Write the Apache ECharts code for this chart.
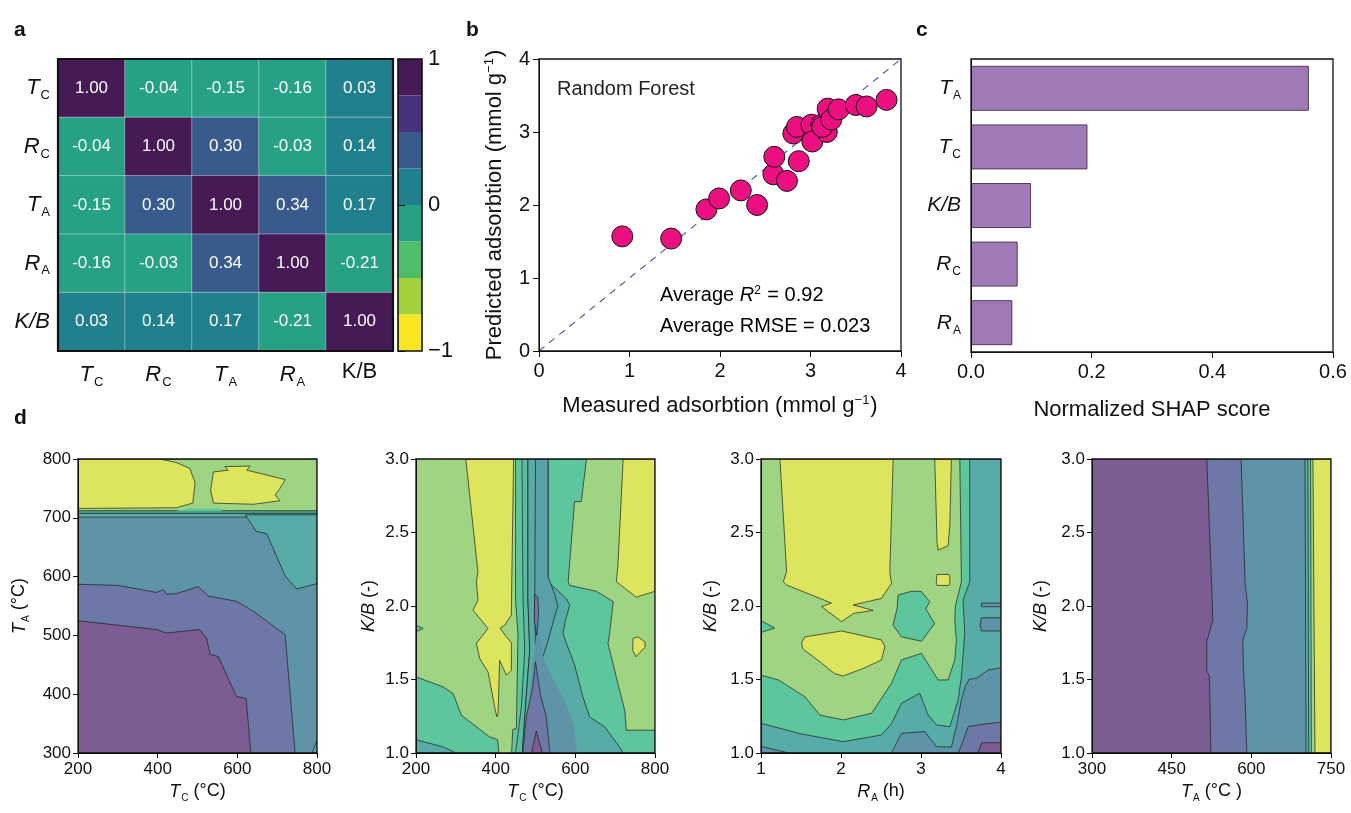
<!DOCTYPE html>
<html><head><meta charset="utf-8">
<script src="https://cdn.jsdelivr.net/npm/echarts@6/dist/echarts.min.js"></script>
<style>html,body{margin:0;padding:0;background:#fff}#c{width:1351px;height:813px}</style>
</head><body><div id="c"></div>
<script>
const FONT = '"Liberation Sans", Arial, Helvetica, sans-serif';

// ---------- panel a : correlation matrix ----------
const corrVars = ['TC', 'RC', 'TA', 'RA', 'KB'];
const corrMatrix = [
  [1.00, -0.04, -0.15, -0.16, 0.03],
  [-0.04, 1.00, 0.30, -0.03, 0.14],
  [-0.15, 0.30, 1.00, 0.34, 0.17],
  [-0.16, -0.03, 0.34, 1.00, -0.21],
  [0.03, 0.14, 0.17, -0.21, 1.00]
];
const cbarEdges = [-1, -0.75, -0.5, -0.25, 0, 0.25, 0.5, 0.75, 1];
const cbarColors = ['#f7e621', '#a2d13c', '#50bd6a', '#27a185', '#21808e', '#395b8c', '#46327e', '#451a55'];

// ---------- panel b : parity plot ----------
const measured  = [0.92, 1.46, 1.85, 1.99, 2.23, 2.41, 2.59, 2.60, 2.74, 2.87, 2.81, 2.85, 3.01, 3.02, 3.18, 3.12, 3.13, 3.19, 3.23, 3.31, 3.50, 3.62, 3.84];
const predicted = [1.57, 1.54, 1.94, 2.09, 2.20, 2.00, 2.42, 2.66, 2.33, 2.60, 2.98, 3.07, 3.10, 2.87, 3.00, 3.10, 3.07, 3.32, 3.17, 3.31, 3.37, 3.35, 3.44];
const parityLine = [[0, 0], [4, 4]];

// ---------- panel c : SHAP ----------
const shapFeatures = ['TA', 'TC', 'KB', 'RC', 'RA'];
const shapValues = [0.560, 0.193, 0.0996, 0.0774, 0.0686];

// ---------- panel d : contour regions (data coordinates, level index) ----------
const dLevelColors = ['#7b5d93', '#6e78a6', '#5f93a8', '#57aca7', '#5ec69d', '#9fd483', '#dce55d', '#5bbba2', '#5aa0a9'];

const d1Regions = [
  {lv: 2, ln: 0, pts: [[200, 300], [800, 300], [800, 800], [200, 800]]},
  {lv: 3, pts: [[200, 701], [800, 701], [800, 708], [200, 708]]},
  {lv: 4, pts: [[200, 708], [800, 708], [800, 712], [200, 712]]},
  {lv: 5, pts: [[200, 712], [800, 712], [800, 800], [200, 800]]},
  {lv: 4, ln: 0, pts: [[440, 711], [560, 711], [560, 716], [480, 716]]},
  {lv: 6, pts: [[200, 800], [405, 800], [447, 794], [481, 784], [494, 759], [488, 725], [447, 717], [200, 716]]},
  {lv: 6, pts: [[540, 778], [577, 781], [569, 787], [632, 788], [624, 781], [720, 765], [707, 750], [695, 739], [707, 729], [640, 723], [540, 725], [533, 747]]},
  {lv: 3, pts: [[620, 705], [800, 705], [800, 588], [749, 579], [720, 601], [674, 673], [647, 677]]},
  {lv: 1, pts: [[200, 587], [301, 585], [397, 573], [414, 578], [422, 570], [447, 571], [502, 583], [527, 567], [598, 558], [645, 539], [674, 524], [720, 501], [745, 300], [200, 300]]},
  {lv: 0, pts: [[200, 525], [397, 510], [422, 504], [477, 508], [505, 510], [523, 495], [531, 468], [552, 464], [598, 396], [622, 393], [634, 300], [200, 300]]},
  {lv: 3, pts: [[788, 300], [800, 300], [800, 322]]}
];

const d2Regions = [
  {lv: 5, ln: 0, pts: [[200, 1], [800, 1], [800, 3], [200, 3]]},
  {lv: 6, pts: [[325, 3.0], [445, 3.0], [439.5, 2.0], [439.4, 1.94], [423, 1.87], [411, 1.85], [424, 1.8], [439.4, 1.75], [439.4, 1.563], [427, 1.529], [410, 1.63], [406, 1.27], [403, 1.245], [397.6, 1.313], [381, 1.55], [360, 1.643], [351.6, 1.745], [380.8, 1.847], [343.2, 1.972], [355.7, 2.04], [351.6, 2.165], [355.5, 2.233]]},
  {lv: 6, pts: [[720, 3.0], [800, 3.0], [800, 2.1], [753, 2.06], [703, 2.165], [707, 2.28]]},
  {lv: 6, pts: [[745, 1.78], [757, 1.79], [775, 1.755], [775, 1.72], [752, 1.655], [744, 1.7]]},
  {lv: 4, pts: [[200, 1.518], [268, 1.45], [293, 1.404], [314, 1.257], [385, 1.109], [405, 1.09], [408, 1.0], [200, 1.0]]},
  {lv: 3, pts: [[200, 1.091], [268, 1.041], [301, 1.0], [200, 1.0]]},
  {lv: 4, pts: [[200, 1.87], [218, 1.847], [200, 1.825]]},
  {lv: 4, pts: [[450, 3.0], [628, 3.0], [615, 2.71], [598, 2.71], [582, 2.165], [586, 2.14], [653, 2.1], [695, 2.03], [686, 1.813], [682, 1.745], [711, 1.427], [724, 1.29], [728, 1.155], [800, 1.155], [800, 1.0], [440, 1.0], [443, 1.16], [452, 1.166], [456, 1.81], [450, 2.04]]},
  {lv: 7, pts: [[466, 3.0], [481, 3.0], [481, 2.04], [485.5, 1.7], [473, 1.245], [467, 1.0], [450, 1.0], [464.5, 1.313], [473, 1.7], [468.7, 2.04]]},
  {lv: 3, pts: [[481, 3.0], [531.5, 3.0], [531.5, 2.165], [577.5, 2.05], [586, 2.006], [575, 1.9], [569, 1.81], [598, 1.6], [619, 1.382], [636, 1.245], [674, 1.177], [711, 1.04], [720, 1.0], [467, 1.0], [473, 1.245], [485.5, 1.7], [481, 2.04]]},
  {lv: 8, pts: [[500, 3.0], [531.5, 3.0], [531.5, 2.2], [548, 2.08], [556, 2.0], [540, 1.85], [530, 1.75], [518, 1.65], [500, 1.7], [498, 2.0]]},
  {lv: 2, ln: 0, pts: [[505, 1.85], [520, 1.65], [545, 1.5], [575, 1.35], [595, 1.2], [605, 1.0], [478, 1.0], [482, 1.25], [492, 1.6]]},
  {lv: 1, pts: [[498, 2.08], [506, 2.06], [508, 1.95], [503, 1.8], [497, 1.9]]},
  {lv: 1, pts: [[500, 1.62], [512, 1.4], [527, 1.245], [536, 1.0], [468, 1.0], [477, 1.245], [493, 1.45]]},
  {lv: 0, pts: [[502, 1.15], [517, 1.0], [490, 1.0]]}
];

const d3Regions = [
  {lv: 5, ln: 0, pts: [[1, 1], [4, 1], [4, 3], [1, 3]]},
  {lv: 6, pts: [[1.237, 3.0], [2.652, 3.0], [2.61, 2.234], [2.631, 2.154], [2.506, 2.052], [2.153, 2.007], [2.4, 1.97], [2.16, 1.95], [2.007, 1.894], [1.757, 1.996], [1.88, 2.02], [1.32, 2.143], [1.279, 2.165], [1.32, 2.234]]},
  {lv: 6, pts: [[1.508, 1.75], [1.549, 1.79], [2.007, 1.83], [2.506, 1.769], [2.548, 1.723], [2.506, 1.633], [2.3, 1.58], [2.028, 1.524], [1.92, 1.54], [1.737, 1.62], [1.52, 1.71]]},
  {lv: 6, pts: [[3.172, 3.0], [3.38, 3.0], [3.36, 2.55], [3.339, 2.41], [3.214, 2.38], [3.2, 2.44]]},
  {lv: 6, pts: [[3.2, 2.215], [3.35, 2.215], [3.36, 2.2], [3.36, 2.15], [3.35, 2.14], [3.2, 2.14], [3.19, 2.16]]},
  {lv: 4, pts: [[2.715, 2.075], [2.881, 2.1], [3.0, 2.1], [3.11, 2.03], [3.06, 1.98], [3.17, 1.88], [3.006, 1.76], [2.756, 1.79], [2.65, 1.87], [2.7, 1.98]]},
  {lv: 4, pts: [[1.0, 1.9], [1.17, 1.85], [1.0, 1.82]]},
  {lv: 4, pts: [[1.0, 1.53], [1.216, 1.497], [1.549, 1.383], [1.737, 1.258], [2.028, 1.225], [2.382, 1.27], [2.631, 1.474], [2.756, 1.633], [3.006, 1.678], [3.11, 1.587], [3.214, 1.497], [3.339, 1.497], [3.422, 1.633], [3.443, 1.769], [3.422, 1.9], [3.43, 2.0], [3.505, 2.165], [3.485, 3.0], [4, 3], [4, 1], [1, 1]]},
  {lv: 3, pts: [[1.0, 1.202], [1.5, 1.13], [2.028, 1.077], [2.382, 1.111], [2.506, 1.123], [2.631, 1.2], [2.756, 1.338], [2.984, 1.406], [3.089, 1.259], [3.193, 1.191], [3.36, 1.179], [3.464, 1.36], [3.505, 1.519], [3.547, 1.813], [3.526, 2.04], [3.609, 2.165], [3.609, 3.0], [4, 3], [4, 1], [1, 1]]},
  {lv: 2, pts: [[1, 1.045], [1.35, 1.0], [1, 1]]},
  {lv: 2, pts: [[2.63, 1.0], [2.756, 1.134], [3.047, 1.146], [3.193, 1.043], [3.38, 1.04], [3.45, 1.2], [3.5, 1.35], [3.55, 1.45], [3.6, 1.5], [3.7, 1.51], [3.84, 1.565], [4, 1.58], [4, 1]]},
  {lv: 2, pts: [[3.755, 1.92], [4, 1.92], [4, 1.83], [3.755, 1.83], [3.74, 1.875]]},
  {lv: 2, pts: [[3.755, 2.02], [4, 2.02], [4, 1.995], [3.755, 1.995]]},
  {lv: 1, pts: [[3.47, 1.0], [3.59, 1.18], [3.84, 1.2], [4, 1.21], [4, 1]]},
  {lv: 0, pts: [[3.71, 1.0], [3.76, 1.07], [4, 1.07], [4, 1]]}
];

const d4Regions = [
  {lv: 2, ln: 0, pts: [[300, 1], [750, 1], [750, 3], [300, 3]]},
  {lv: 1, pts: [[300, 1], [300, 3], [580.8, 3], [588.3, 2.153], [592.7, 2.017], [591.4, 1.847], [583.9, 1.767], [585.2, 1.563], [588.3, 1.381], [591.4, 1.0]]},
  {lv: 0, pts: [[300, 1], [300, 3], [516.2, 3], [525.6, 2.108], [527.5, 1.904], [516.2, 1.756], [516.2, 1.563], [521.2, 1.518], [523.7, 1.02], [524, 1]]},
  {lv: 3, pts: [[703, 1], [701, 3], [750, 3], [750, 1]]},
  {lv: 4, pts: [[708, 1], [706.6, 3], [750, 3], [750, 1]]},
  {lv: 5, pts: [[713, 1], [711.6, 3], [750, 3], [750, 1]]},
  {lv: 6, pts: [[719.8, 1], [716, 3], [750, 3], [750, 1]]}
];

// ---------- layout ----------
const L = {
  a:  {left: 58,   top: 59,  width: 335, height: 292},
  cb: {left: 398,  top: 59,  width: 24,  height: 292},
  b:  {left: 539,  top: 59,  width: 362, height: 292},
  c:  {left: 971,  top: 59,  width: 362, height: 293},
  d1: {left: 78,   top: 459, width: 239, height: 294},
  d2: {left: 416,  top: 459, width: 239, height: 294},
  d3: {left: 761,  top: 459, width: 240, height: 294},
  d4: {left: 1092, top: 459, width: 239, height: 294}
};
const gridKeys = ['a', 'cb', 'b', 'c', 'd1', 'd2', 'd3', 'd4'];

function rich(size, color) {
  color = color || '#111';
  const ss = Math.round(size * 0.58);
  return {
    i: {fontFamily: FONT, fontSize: size, fontStyle: 'italic', color: color},
    n: {fontFamily: FONT, fontSize: size, color: color},
    s: {fontFamily: FONT, fontSize: ss, color: color, verticalAlign: 'bottom', padding: [Math.round(size * 0.7), 0, 0, 1]},
    p: {fontFamily: FONT, fontSize: ss, color: color, verticalAlign: 'top', padding: [0, 1, Math.round(size * 0.45), 0]}
  };
}
const varLabel = {TC: '{i|T}{s|C}', RC: '{i|R}{s|C}', TA: '{i|T}{s|A}', RA: '{i|R}{s|A}', KB: '{i|K/B}'};
const varLabelUp = Object.assign({}, varLabel, {KB: '{n|K/B}'});

const grids = gridKeys.map(k => Object.assign({outerBoundsMode: 'none', containLabel: false}, L[k]));

function valAxis(gi, min, max, interval, fmt, size, margin, tickLen, extra) {
  return Object.assign({
    type: 'value', gridIndex: gi, min: min, max: max, interval: interval,
    axisLine: {show: true, lineStyle: {color: '#111', width: 1}},
    axisTick: {show: true, inside: false, length: tickLen, lineStyle: {color: '#111', width: 1}},
    splitLine: {show: false},
    axisLabel: {formatter: fmt, fontFamily: FONT, fontSize: size, color: '#111', margin: margin},
    z: 10
  }, extra || {});
}
const dName = (txt, gap) => ({name: txt, nameLocation: 'middle', nameGap: gap, nameTextStyle: {rich: rich(18)}});

const xAxes = [
  {type: 'category', gridIndex: 0, data: corrVars, axisLine: {show: false}, axisTick: {show: false},
   axisLabel: {formatter: v => varLabelUp[v], rich: rich(22), margin: 10}},
  {type: 'value', gridIndex: 1, min: 0, max: 1, show: false},
  valAxis(2, 0, 4, 1, v => String(v), 20, 10, 6, {name: '{n|Measured adsorbtion (mmol g}{p|−1}{n|)}', nameLocation: 'middle', nameGap: 43, nameTextStyle: {rich: rich(22)}}),
  valAxis(3, 0, 0.6, 0.2, v => v.toFixed(1), 20, 10, 6, {name: '{n|Normalized SHAP score}', nameLocation: 'middle', nameGap: 47, nameTextStyle: {rich: rich(22)}}),
  valAxis(4, 200, 800, 200, v => String(v), 17, 8, 5, dName('{i|T}{s|C}{n| (°C)}', 27)),
  valAxis(5, 200, 800, 200, v => String(v), 17, 8, 5, dName('{i|T}{s|C}{n| (°C)}', 27)),
  valAxis(6, 1, 4, 1, v => String(v), 17, 8, 5, dName('{i|R}{s|A}{n| (h)}', 27)),
  valAxis(7, 300, 750, 150, v => String(v), 17, 8, 5, dName('{i|T}{s|A}{n| (°C )}', 27))
];

const yAxes = [
  {type: 'category', gridIndex: 0, data: corrVars, inverse: true, axisLine: {show: false}, axisTick: {show: false},
   axisLabel: {formatter: v => varLabel[v], rich: rich(22), margin: 8}},
  valAxis(1, -1, 1, 1, v => (v < 0 ? '−' + Math.abs(v) : String(v)), 22, 6, 7, {position: 'right', axisLine: {show: false}}),
  valAxis(2, 0, 4, 1, v => String(v), 20, 9, 6, {name: '{n|Predicted adsorbtion (mmol g}{p|−1}{n|)}', nameLocation: 'middle', nameGap: 33, nameTextStyle: {rich: rich(22)}}),
  {type: 'category', gridIndex: 3, data: shapFeatures, inverse: true, axisLine: {show: true, lineStyle: {color: '#111'}}, axisTick: {show: false},
   axisLabel: {formatter: v => varLabel[v], rich: rich(21), margin: 10}, z: 10},
  valAxis(4, 300, 800, 100, v => String(v), 17, 7, 5, dName('{i|T}{s|A}{n| (°C)}', 47)),
  valAxis(5, 1, 3, 0.5, v => v.toFixed(1), 17, 7, 5, dName('{i|K/B}{n| (-)}', 38)),
  valAxis(6, 1, 3, 0.5, v => v.toFixed(1), 17, 7, 5, dName('{i|K/B}{n| (-)}', 41)),
  valAxis(7, 1, 3, 0.5, v => v.toFixed(1), 17, 7, 5, dName('{i|K/B}{n| (-)}', 42))
];

// heatmap data
const heatData = [];
corrMatrix.forEach((row, r) => row.forEach((v, c) => heatData.push([c, r, v])));
const cbarData = cbarColors.map((col, i) => [cbarEdges[i], cbarEdges[i + 1], i]);

function contourSeries(regions, gi) {
  return {
    type: 'custom', xAxisIndex: gi, yAxisIndex: gi, clip: true, silent: true, z: 2,
    data: regions.map((r, i) => [i]),
    renderItem: function (params, api) {
      const r = regions[params.dataIndex];
      const pts = r.pts.map(p => api.coord(p));
      return {
        type: 'polygon', shape: {points: pts},
        style: {fill: dLevelColors[r.lv], stroke: r.ln === 0 ? null : 'rgba(25,25,25,0.85)', lineWidth: 0.8, lineJoin: 'round'}
      };
    }
  };
}

const series = [
  {type: 'heatmap', xAxisIndex: 0, yAxisIndex: 0, data: heatData,
   itemStyle: {borderColor: 'rgba(255,255,255,0.45)', borderWidth: 0.8},
   label: {show: true, formatter: p => p.value[2].toFixed(2), color: '#fff', fontFamily: FONT, fontSize: 17}},
  {type: 'custom', xAxisIndex: 1, yAxisIndex: 1, silent: true, data: cbarData,
   renderItem: function (params, api) {
     const lo = api.value(0), hi = api.value(1);
     const p1 = api.coord([0, hi]), p2 = api.coord([1, lo]);
     return {type: 'rect', shape: {x: p1[0], y: p1[1], width: p2[0] - p1[0], height: p2[1] - p1[1]},
             style: {fill: cbarColors[api.value(2)]}};
   }},
  {type: 'line', xAxisIndex: 2, yAxisIndex: 2, data: parityLine, symbol: 'none', silent: true, z: 1,
   lineStyle: {type: [7, 6], color: '#4a4fae', width: 1.1}},
  {type: 'scatter', xAxisIndex: 2, yAxisIndex: 2, data: measured.map((m, i) => [m, predicted[i]]),
   symbol: 'circle', symbolSize: 21, z: 3,
   itemStyle: {color: '#eb0f80', borderColor: '#111', borderWidth: 1, opacity: 1}},
  {type: 'bar', xAxisIndex: 3, yAxisIndex: 3, data: shapValues, barWidth: 45,
   itemStyle: {color: '#a07ab6', borderColor: '#4e3d5c', borderWidth: 1}},
  contourSeries(d1Regions, 4),
  contourSeries(d2Regions, 5),
  contourSeries(d3Regions, 6),
  contourSeries(d4Regions, 7)
];

const frames = gridKeys.map(k => ({
  type: 'rect', z: 100, silent: true,
  shape: {x: L[k].left, y: L[k].top, width: L[k].width, height: L[k].height},
  style: {fill: null, stroke: '#111', lineWidth: k === 'a' ? 2.2 : (k === 'cb' ? 1.6 : 1.3)}
}));

const letters = [['a', 14, 20], ['b', 466, 20], ['c', 916, 20], ['d', 14, 408]].map(t => ({
  type: 'text', left: t[1], top: t[2], z: 100,
  style: {text: t[0], font: 'bold 21px ' + FONT, fill: '#111'}
}));

const notes = [
  {type: 'text', left: 557, top: 79, z: 100, style: {text: 'Random Forest', font: '20px ' + FONT, fill: '#222'}},
  {type: 'text', left: 660, top: 285, z: 100, style: {text: '{n|Average }{i|R}{p|2}{n| = 0.92}', rich: rich(20, '#222')}},
  {type: 'text', left: 660, top: 316, z: 100, style: {text: '{n|Average RMSE = 0.023}', rich: rich(20, '#222')}}
];

const chart = echarts.init(document.getElementById('c'), null, {renderer: 'canvas', width: 1351, height: 813});
chart.setOption({
  animation: false,
  backgroundColor: '#fff',
  textStyle: {fontFamily: FONT},
  grid: grids,
  xAxis: xAxes,
  yAxis: yAxes,
  visualMap: [{
    type: 'piecewise', show: false, seriesIndex: 0, dimension: 2,
    pieces: cbarColors.map((col, i) => ({gte: cbarEdges[i], lt: cbarEdges[i + 1] + (i === cbarColors.length - 1 ? 0.001 : 0), color: col}))
  }],
  series: series,
  graphic: frames.concat(letters, notes)
});
</script></body></html>
